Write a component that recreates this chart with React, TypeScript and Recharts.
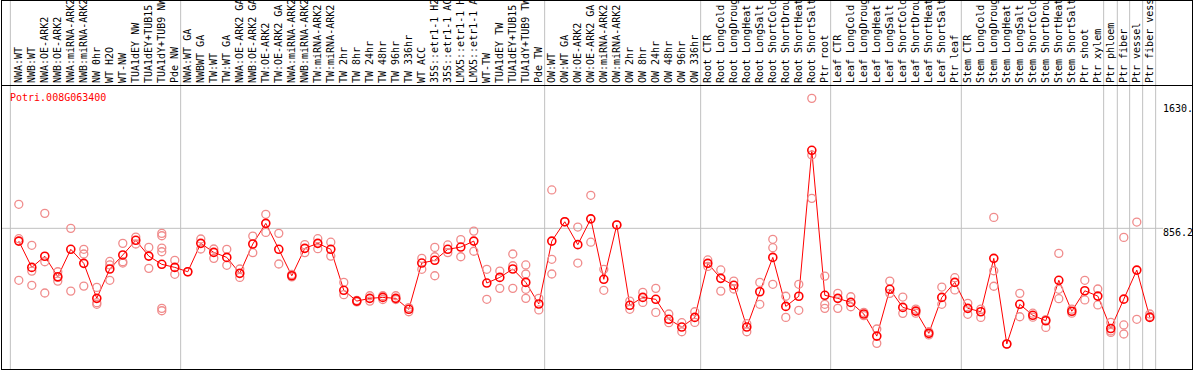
import React from "react";
import {
  ComposedChart,
  Line,
  Scatter,
  XAxis,
  YAxis,
  ReferenceLine,
} from "recharts";

// sample labels, one per column
const LABELS = [
  "NWA:WT", "NWB:WT", "NWA:OE-ARK2", "NWB:OE-ARK2", "NWA:miRNA-ARK2", "NWB:miRNA-ARK2",
  "NW 0hr", "WT H2O", "WT-NW", "TUA1dEY NW", "TUA1dEY+TUB15 NW", "TUA1dY+TUB9 NW", "Pde NW",
  "NWA:WT GA", "NWBWT GA", "TW:WT", "TW:WT GA", "NWA:OE-ARK2 GA", "NWB:OE-ARK2 GA",
  "TW:OE-ARK2", "TW:OE-ARK2 GA", "NWA:miRNA-ARK2 GA", "NWB:miRNA-ARK2 GA", "TW:miRNA-ARK2",
  "TW:miRNA-ARK2 GA", "TW 2hr", "TW 8hr", "TW 24hr", "TW 48hr", "TW 96hr", "TW 336hr",
  "WT ACC", "35S::etr1-1 H2O", "35S::etr1-1 ACC", "LMX5::etr1-1 H2O", "LMX5::etr1-1 ACC",
  "WT-TW", "TUA1dEY TW", "TUA1dEY+TUB15 TW", "TUA1dY+TUB9 TW", "Pde TW",
  "OW:WT", "OW:WT GA", "OW:OE-ARK2", "OW:OE-ARK2 GA", "OW:miRNA-ARK2", "OW:miRNA-ARK2 GA",
  "OW 2hr", "OW 8hr", "OW 24hr", "OW 48hr", "OW 96hr", "OW 336hr",
  "Root CTR", "Root LongCold", "Root LongDrought", "Root LongHeat", "Root LongSalt",
  "Root ShortCold", "Root ShortDrought", "Root ShortHeat", "Root ShortSalt", "Ptr root",
  "Leaf CTR", "Leaf LongCold", "Leaf LongDrought", "Leaf LongHeat", "Leaf LongSalt",
  "Leaf ShortCold", "Leaf ShortDrought", "Leaf ShortHeat", "Leaf ShortSalt", "Ptr leaf",
  "Stem CTR", "Stem LongCold", "Stem LongDrought", "Stem LongHeat", "Stem LongSalt",
  "Stem ShortCold", "Stem ShortDrought", "Stem ShortHeat", "Stem ShortSalt", "Ptr shoot",
  "Ptr xylem", "Ptr phloem", "Ptr fiber", "Ptr vessel", "Ptr fiber vessel",
];

// mean expression per sample
const MEANS = [
  777, 614, 683, 556, 726, 639, 422, 604, 691, 782, 684, 633, 614,
  587, 763, 707, 676, 577, 759, 887, 726, 562, 732, 763, 726, 472, 405, 422, 428, 422, 354,
  641, 658, 726, 740, 777, 517, 552, 604, 521, 387,
  777, 897, 755, 915, 540, 877, 379, 428, 416, 292, 244, 304,
  639, 546, 503, 244, 463, 676, 372, 435, 1340, 441,
  422, 397, 325, 188, 478, 366, 343, 205, 428, 521,
  360, 339, 670, 139, 385, 317, 283, 534, 342, 469, 436,
  235, 417, 597, 304,
];

// individual replicates
const REPLICATES = [
  [1005, 792, 534], [751, 591, 503], [949, 649, 455], [587, 552, 529], [856, 467],
  [726, 697, 498], [490, 395, 385], [651, 629, 534], [763, 649, 641], [802, 759],
  [738, 608], [825, 810, 734, 711, 360, 345], [658, 571],
  [587], [790, 728], [728, 670], [726, 627], [604, 552], [808, 705], [943, 831],
  [825, 635], [570, 555], [755, 705], [792, 730], [770, 684], [521, 445], [410, 400],
  [438, 405], [438, 415], [438, 415], [339, 365], [670, 602], [738, 680, 562],
  [753, 705], [786, 680], [839, 714], [602, 416], [591, 484], [697, 624, 484],
  [629, 573, 478, 422], [422, 350],
  [1094, 664, 573], [897], [864, 641], [1061, 770], [602, 472], [877], [405, 354],
  [459, 397], [484, 335], [325, 271], [271, 215], [339, 273],
  [660, 620], [598, 467], [529, 480], [215, 265], [521, 385], [788, 736, 509],
  [435, 304], [509, 348], [1662, 1311, 1042], [560, 385, 360],
  [453, 360], [432, 370], [335, 315], [232, 143], [529, 453], [430, 329], [355, 330],
  [215, 195], [492, 385], [550, 474],
  [391, 323], [355, 304], [924, 593, 497], [139], [453, 308], [330, 305], [290, 242],
  [701, 478, 420], [355, 330], [534, 412], [480, 381],
  [273, 211, 220], [800, 257, 201], [895, 292], [325, 310],
];

// group boundaries (between columns)
const SEPARATORS = [-0.65, 12.45, 40.45, 52.45, 62.45, 72.5, 83.45, 84.5, 85.45, 86.45, 87.45];

const Y_TICKS = [0, 856.2, 1630];
const Y_TICK_LABELS = ["0", "856.2", "1630."];

const FONT = "'DejaVu Sans Mono', 'Liberation Mono', monospace";

const chartData = MEANS.map((v, i) => ({ i, v }));
const repData = REPLICATES.flatMap((reps, i) => reps.map((r) => ({ i, r })));

const XTick = ({ x, payload }: any) => (
  <text
    transform={`translate(${x},83) rotate(-90)`}
    fontSize={10}
    fontFamily={FONT}
    dominantBaseline="central"
    fill="#000"
  >
    {LABELS[payload.value]}
  </text>
);

const YTick = ({ x, y, payload }: any) => {
  const idx = Y_TICKS.indexOf(payload.value);
  const base = Math.min(y + 8, 366);
  return (
    <g>
      {payload.value === 856.2 && (
        <line x1={x - 8} x2={x} y1={y} y2={y} stroke="#c0c0c0" />
      )}
      <text x={x} y={base} fontSize={10} fontFamily={FONT} fill="#000">
        {Y_TICK_LABELS[idx]}
      </text>
    </g>
  );
};

const SepLine = (props: any) => (
  <line x1={props.x1} x2={props.x2} y1={0} y2={369} stroke="#c0c0c0" strokeWidth={1} />
);

const MainDot = (props: any) => {
  const { cx, cy, index } = props;
  return (
    <circle key={`m${index}`} cx={cx} cy={cy} r={4} fill="none" stroke="#ff0000" strokeWidth={1.6} />
  );
};

const RepDot = (props: any) => (
  <circle cx={props.cx} cy={props.cy} r={4} fill="none" stroke="#f08c8c" strokeWidth={1.3} />
);

export default function App() {
  return (
    <div style={{ position: "absolute", left: 0, top: 0, width: 1194, height: 370, background: "#fff" }}>
      <ComposedChart
        width={1194}
        height={370}
        data={chartData}
        margin={{ top: 0, right: 0, left: 2, bottom: 1 }}
      >
        <XAxis
          dataKey="i"
          type="number"
          orientation="top"
          height={85}
          domain={[-1.292, 87.477]}
          ticks={MEANS.map((_, i) => i)}
          interval={0}
          tick={<XTick />}
          tickLine={false}
          axisLine={false}
          allowDataOverflow
        />
        <YAxis
          type="number"
          orientation="right"
          width={38}
          domain={[-16.1, 1744.9]}
          ticks={Y_TICKS}
          tick={<YTick />}
          tickSize={0}
          tickMargin={7}
          tickLine={false}
          axisLine={false}
          allowDataOverflow
        />
        {SEPARATORS.map((s) => (
          <ReferenceLine key={s} x={s} stroke="#c0c0c0" shape={<SepLine />} ifOverflow="visible" />
        ))}
        <ReferenceLine y={856.2} stroke="#c0c0c0" />
        <Scatter
          data={repData}
          dataKey="r"
          shape={<RepDot />}
          isAnimationActive={false}
        />
        <Line
          dataKey="v"
          stroke="#ff0000"
          strokeWidth={1}
          dot={MainDot}
          activeDot={false}
          isAnimationActive={false}
        />
      </ComposedChart>
      <svg
        width={1194}
        height={370}
        style={{ position: "absolute", left: 0, top: 0, pointerEvents: "none" }}
      >
        <rect x={1.5} y={0.5} width={1191} height={369} fill="none" stroke="#000" />
        <line x1={1} x2={1193} y1={85.5} y2={85.5} stroke="#000" />
        <text x={10} y={100.5} fontSize={10} fontFamily={FONT} fill="#ff0000">
          Potri.008G063400
        </text>
      </svg>
    </div>
  );
}
